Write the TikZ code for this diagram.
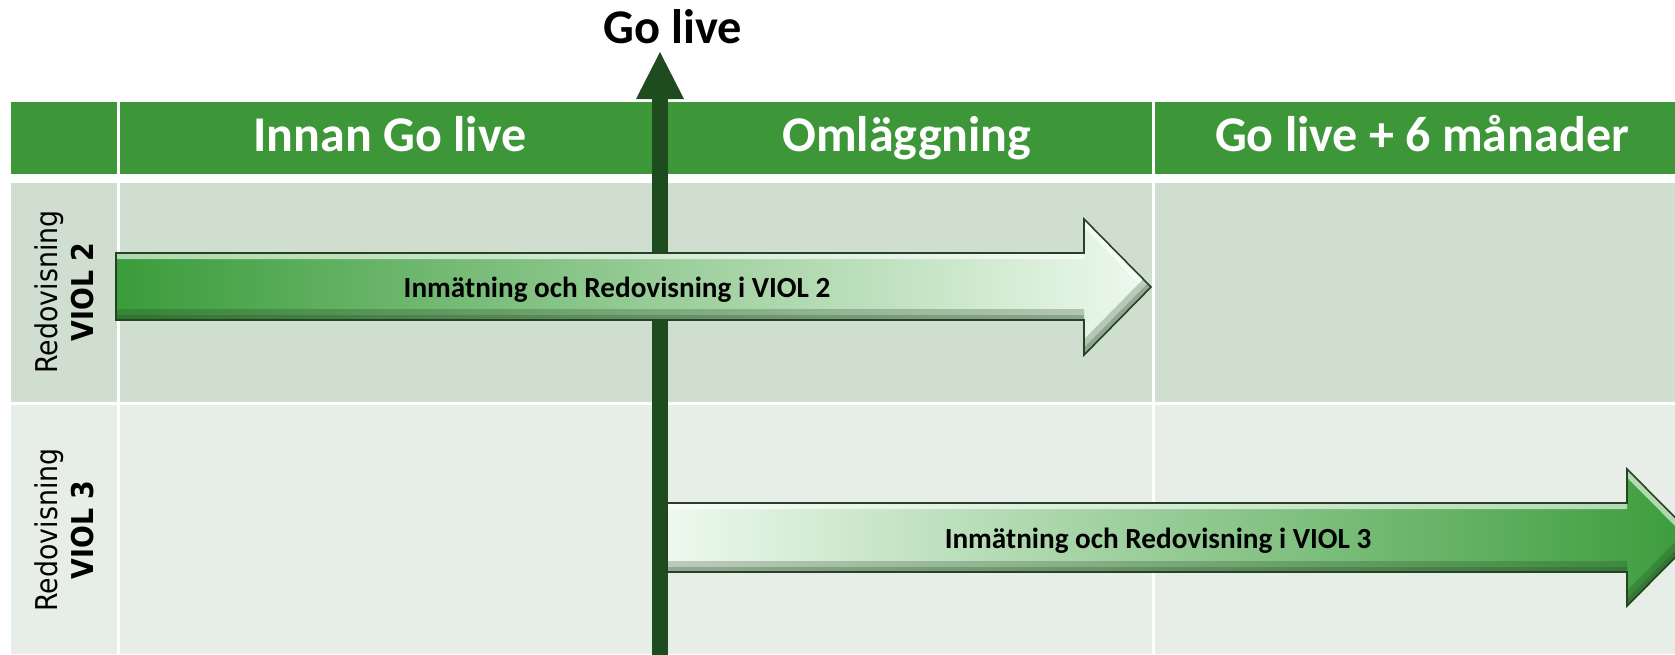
\documentclass[tikz,border=0pt]{standalone}
\usepackage{fontspec}
\usepackage{tikz}
\usetikzlibrary{arrows.meta,positioning,calc}
\newfontfamily\carlito{Carlito}
\newfontfamily\dejavu{DejaVu Sans}
\definecolor{headgreen}{RGB}{61,151,57}
\definecolor{rowone}{RGB}{207,222,207}
\definecolor{rowtwo}{RGB}{231,238,231}
\definecolor{golivegreen}{RGB}{30,76,30}
\definecolor{arrowgreen}{RGB}{58,156,58}
\definecolor{arrowpale}{RGB}{238,249,238}
\definecolor{arrowline}{RGB}{36,66,36}
\tikzset{
	colhead/.style={anchor=base, text=white, font=\carlito\bfseries\fontsize{25}{30}\selectfont},
	rowlabel/.style={rotate=90, yscale=1.12, align=center, font=\dejavu\fontsize{13.4}{16}\selectfont},
	task/.style={anchor=base, font=\carlito\bfseries\fontsize{14.6}{17}\selectfont},
	arrowedge/.style={draw=arrowline, line width=0.8pt, line join=miter},
	lightedge/.style={white, opacity=0.6, line width=6pt},
	darkedge/.style={arrowline, opacity=0.25, line width=#1},
	golivearrow/.style={golivegreen, line width=8pt, -{Triangle[width=24pt,length=23.5pt,line width=0pt]}}
}

\begin{document}
\begin{tikzpicture}[x=0.5pt, y=-0.5pt]
\useasboundingbox (0,0) rectangle (1675,654);
\clip (0,0) rectangle (1675,654);
% table cells
\foreach \ya/\yb/\cellcol in {102/174/headgreen, 183/402/rowone, 405/654/rowtwo} {
	\fill[\cellcol] (11,\ya) rectangle (117,\yb);
	\fill[\cellcol] (120,\ya) rectangle (1152,\yb);
	\fill[\cellcol] (1155,\ya) rectangle (1675,\yb);
}
\node[colhead] (innan) at (390,151) {Innan Go live};
\node[colhead] (omlagg) at (907,151) {Omläggning};
\node[colhead] (sexman) at (1422,151) {Go live + 6 månader};
\node[rowlabel] (viol2) at (64,292) {Redovisning\\\textbf{VIOL 2}};
\node[rowlabel] (viol3) at (64,530) {Redovisning\\\textbf{VIOL 3}};

% go live marker
\node[anchor=base, font=\carlito\bfseries\fontsize{24.2}{29}\selectfont] (golive) at (673,43) {Go live};
\coordinate (glfoot) at (660,660);
\coordinate (gltip) at (660,52);
\draw[golivearrow] (glfoot) -- (gltip);

% VIOL 2 arrow
\def\arrA{(116,253) -- (1084,253) -- (1084,219) -- (1151,287) -- (1084,355) -- (1084,320) -- (116,320) -- cycle}
\path[left color=arrowgreen, right color=arrowpale] \arrA;
\begin{scope}
\clip \arrA;
\draw[lightedge] (116,253) -- (1084,253) (1084,219) -- (1151,287);
\draw[darkedge=11pt] (116,320) -- (1084,320) (1151,287) -- (1084,355);
\draw[darkedge=5pt] (116,320) -- (1084,320) (1151,287) -- (1084,355);
\end{scope}
\draw[arrowedge] \arrA;
\node[task] (taskA) at (617,297) {Inmätning och Redovisning i VIOL 2};

% VIOL 3 arrow
\def\arrB{(667,503) -- (1627,503) -- (1627,469) -- (1695,537.5) -- (1627,606) -- (1627,572) -- (667,572) -- cycle}
\path[left color=arrowpale, right color=arrowgreen] \arrB;
\begin{scope}
\clip \arrB;
\draw[lightedge] (667,503) -- (1627,503) (1627,469) -- (1695,537.5);
\draw[darkedge=11pt] (667,572) -- (1627,572) (1695,537.5) -- (1627,606);
\draw[darkedge=5pt] (667,572) -- (1627,572) (1695,537.5) -- (1627,606);
\end{scope}
\draw[arrowedge] \arrB;
\node[task] (taskB) at (1158,548) {Inmätning och Redovisning i VIOL 3};
\end{tikzpicture}
\end{document}
